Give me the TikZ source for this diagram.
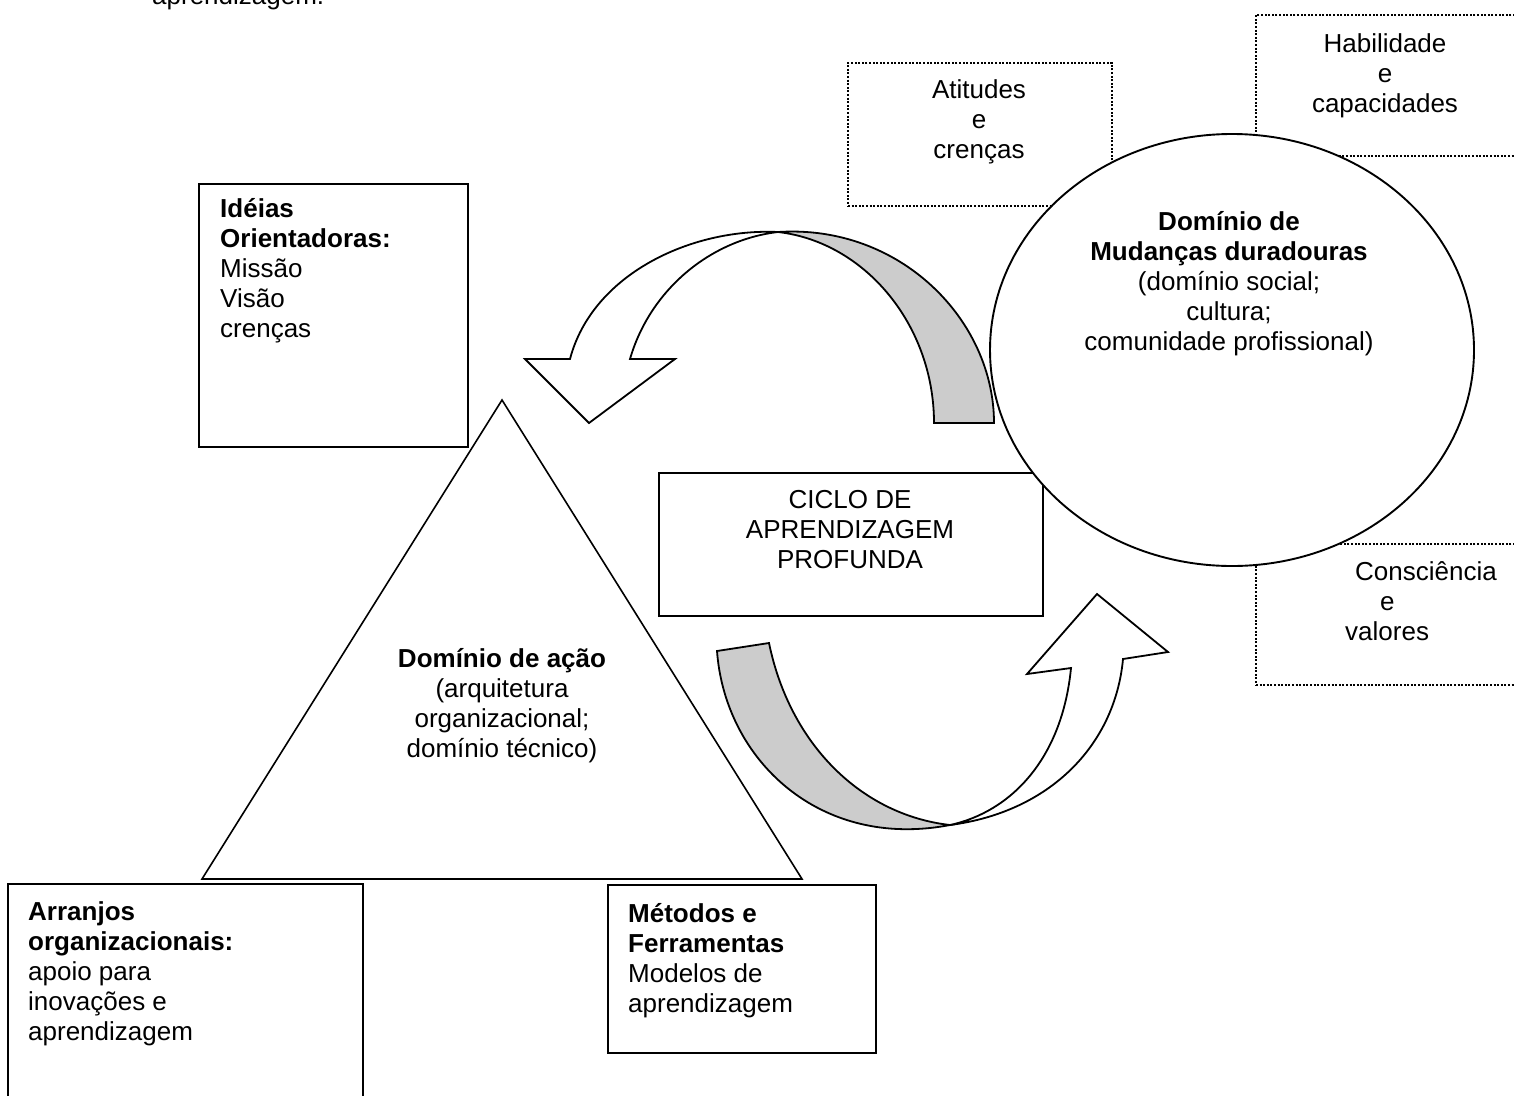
\documentclass[tikz,border=0pt]{standalone}
\usepackage{fontspec}
\setmainfont{Liberation Sans}
\usetikzlibrary{shapes.geometric}

\begin{document}
\begin{tikzpicture}[
  x=1pt,y=-1pt,
  font=\fontsize{26}{30}\selectfont,
  frame/.style={draw,line width=1.9pt,fill=white,inner sep=0pt,anchor=north west},
  dotframe/.style={draw,line width=2pt,dash pattern=on 2pt off 1.6pt,
    inner sep=0pt,anchor=north west},
  lefttext/.style={align=left,anchor=base west,inner sep=0pt},
  midtext/.style={align=center,anchor=base,inner sep=0pt},
  band/.style={draw,line width=1.8pt,line join=miter},
  front/.style={band,fill=white},
  back/.style={band,fill=black!20}
]
  \clip (0,0) rectangle (1514,1095);
  \fill[white] (0,0) rectangle (1514,1095);

  \node[lefttext] (cut) at (152,4) {aprendizagem.};

  % outer dotted boxes
  \node[dotframe,minimum width=264,minimum height=143] (atitudes) at (847,62) {};
  \node[dotframe,minimum width=275,minimum height=141] (habil) at (1255,14) {};
  \node[dotframe,minimum width=275,minimum height=141] (consc) at (1255,543) {};

  % upper curved arrow
  \coordinate (xa) at (778,232);
  \draw[back] (xa) .. controls (900,224) and (994,320) .. (994,423)
    -- (934,423) .. controls (934,325) and (865,242) .. (xa) -- cycle;
  \draw[front] (xa) .. controls (690,228) and (592,275) .. (570,359)
    -- (525,359) -- (589,423) -- (675,359) -- (630,359)
    .. controls (650,290) and (710,240) .. (xa) -- cycle;

  \node[frame,minimum width=384,minimum height=143] (ciclo) at (658,472) {};
  \node[midtext] (ciclotxt) at ([shift={(192,96)}]ciclo.north west)
    {CICLO DE\\APRENDIZAGEM\\PROFUNDA};

  \node[draw,ellipse,line width=1.9pt,fill=white,inner sep=0pt,
    minimum width=484,minimum height=432] (mudancas) at (1232,350) {};
  \node[midtext] (mudtxt) at (1229,350)
    {\textbf{Domínio de}\\\textbf{Mudanças duradouras}\\(domínio social;\\cultura;\\comunidade profissional)};

  \node[midtext] (atitxt) at ([shift={(132,96)}]atitudes.north west) {Atitudes\\e\\crenças};
  \node[midtext] (habtxt) at ([shift={(130,98)}]habil.north west) {Habilidade\\e\\capacidades};
  \node[lefttext] (constxt) at ([shift={(90,97)}]consc.north west)
    {\hspace*{10pt}Consciência\\\hspace*{35pt}e\\valores};

  % triangle and corner boxes
  \node[frame,minimum width=269,minimum height=263] (ideias) at (198,183) {};
  \node[lefttext] (ideiastxt) at ([shift={(22,154)}]ideias.north west)
    {\textbf{Idéias}\\\textbf{Orientadoras:}\\Missão\\Visão\\crenças};

  \coordinate (apex) at (502,400);
  \coordinate (bl) at (202,879);
  \coordinate (br) at (802,879);
  \draw[line width=1.6pt] (apex) -- (bl) -- (br) -- cycle;
  \node[midtext] (acao) at (502,757)
    {\textbf{Domínio de ação}\\(arquitetura\\organizacional;\\domínio técnico)};

  \node[frame,minimum width=355,minimum height=250] (arranjos) at (7,883) {};
  \node[lefttext] (arrtxt) at ([shift={(21,157)}]arranjos.north west)
    {\textbf{Arranjos}\\\textbf{organizacionais:}\\apoio para\\inovações e\\aprendizagem};

  \node[frame,minimum width=268,minimum height=168] (metodos) at (607,884) {};
  \node[lefttext] (mettxt) at ([shift={(21,128)}]metodos.north west)
    {\textbf{Métodos e}\\\textbf{Ferramentas}\\Modelos de\\aprendizagem};

  % lower curved arrow
  \coordinate (xb) at (950,825);
  \draw[back] (717,651) -- (769,643) .. controls (790,745) and (862,815) .. (xb)
    .. controls (820,850) and (725,760) .. (717,651) -- cycle;
  \draw[front] (xb) .. controls (1050,812) and (1115,745) .. (1123,659)
    -- (1168,652) -- (1097,594) -- (1027,674) -- (1071,668)
    .. controls (1062,760) and (1010,812) .. (xb) -- cycle;
\end{tikzpicture}
\end{document}
